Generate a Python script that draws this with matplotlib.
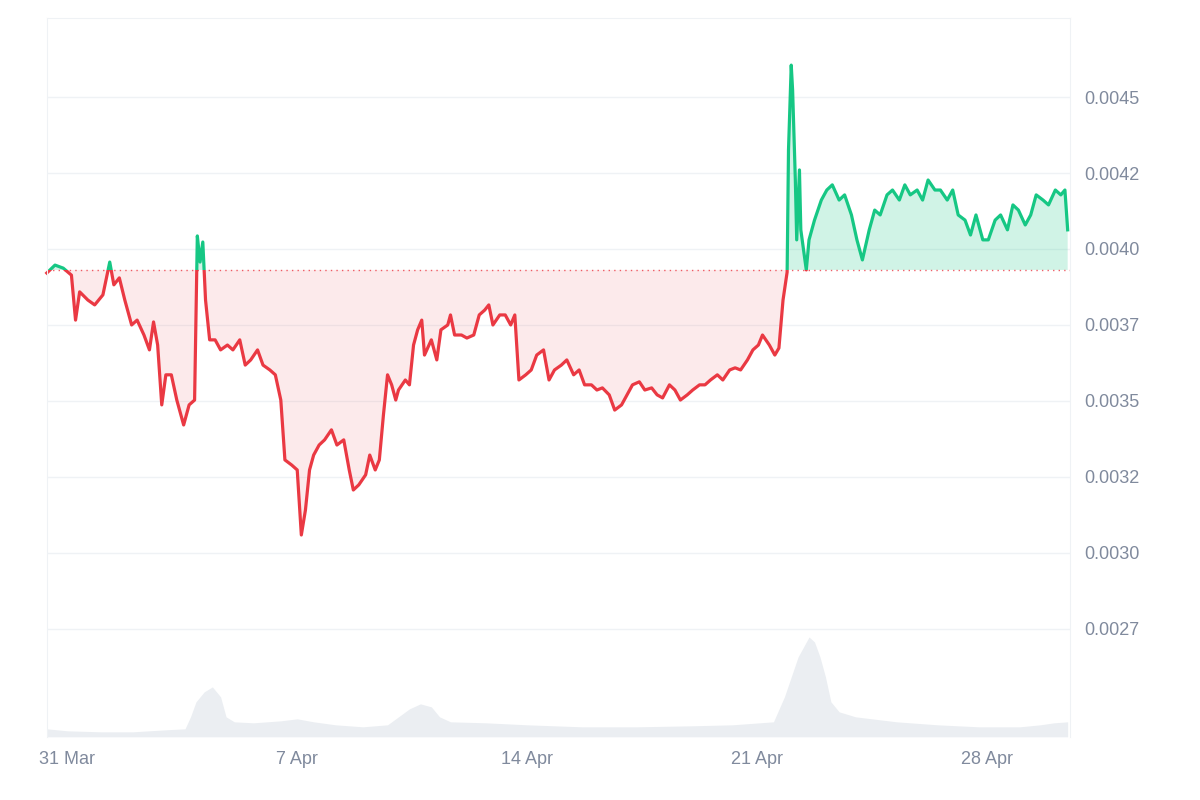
import matplotlib
matplotlib.use("Agg")
import matplotlib.pyplot as plt
from matplotlib.patches import Rectangle
import numpy as np

plt.rcParams['font.family'] = ['Liberation Sans', 'DejaVu Sans']

# hours since 30 Mar 00:00
hours = [9,15,21,27,30,33,39,44,50,55,58,62,66,71,75,80,84,87,90,93,96,100,104,109,113,117,119,121,123,125,128,132,136,141,145,150,154,158,163,167,172,176,180,183,188,192,195,198,201,204,208,212,217,221,226,230,233,237,242,245,249,252,255,258,261,264,266,271,274,277,280,283,285,290,294,297,302,304,307,312,316,321,325,329,332,335,340,344,348,351,354,359,363,367,372,376,380,385,389,394,398,402,407,411,415,420,424,429,433,437,442,446,451,455,459,464,468,472,477,481,486,490,494,499,503,508,512,516,521,525,529,532,537,541,544,547,550,551,553,554,556,557,559,560,562,564,566,570,575,579,583,588,592,597,601,605,610,614,618,623,627,632,636,640,645,649,653,658,662,667,671,675,680,684,688,693,697,702,706,711,715,719,724,728,732,737,741,746,750,753,755]
price_e6 = [3921,3947,3937,3914,3766,3859,3832,3816,3849,3957,3882,3905,3832,3750,3766,3717,3668,3760,3684,3487,3586,3586,3503,3421,3487,3503,4043,3957,4023,3832,3701,3701,3668,3684,3668,3701,3618,3635,3668,3618,3602,3586,3503,3306,3289,3273,3059,3141,3273,3322,3355,3372,3405,3355,3372,3273,3207,3224,3257,3322,3273,3306,3454,3586,3553,3503,3536,3569,3553,3684,3734,3766,3651,3701,3635,3734,3750,3783,3717,3717,3707,3717,3783,3799,3816,3750,3783,3783,3750,3783,3569,3586,3602,3651,3668,3569,3602,3618,3635,3586,3602,3553,3553,3536,3543,3520,3470,3487,3520,3553,3563,3536,3543,3520,3510,3553,3536,3503,3520,3536,3553,3553,3569,3586,3569,3602,3609,3602,3635,3668,3684,3717,3684,3651,3674,3832,3924,4326,4605,4523,4227,4030,4260,4063,3997,3931,4030,4095,4161,4194,4211,4161,4178,4112,4030,3964,4063,4128,4112,4178,4194,4161,4211,4178,4194,4161,4227,4194,4194,4161,4194,4112,4095,4046,4112,4030,4030,4095,4112,4063,4145,4128,4079,4112,4178,4161,4145,4194,4178,4194,4063]
vol_hours = [9,24,48,72,96,110,114,118,124,130,136,140,146,160,180,192,204,220,240,258,266,274,282,290,296,304,330,360,400,440,480,510,530,540,548,553,558,562,566,570,574,578,582,588,600,630,660,690,720,735,745,755]
volume = [8,6,5,5,7,8,20,35,45,50,40,20,15,14,16,18,15,12,10,12,20,28,33,30,20,15,14,12,10,10,11,12,14,15,40,60,80,90,100,95,80,60,35,25,20,15,12,10,10,12,14,15]
tick_hours = [24,192,360,528,696]
tick_labels = ["31 Mar","7 Apr","14 Apr","21 Apr","28 Apr"]
yticks = [0.0027,0.0030,0.0032,0.0035,0.0037,0.0040,0.0042,0.0045]
ytick_vals = [0.00275,0.0030,0.00325,0.0035,0.00375,0.0040,0.00425,0.0045]
baseline = 0.003931

n = min(len(hours), len(price_e6))
x = np.array(hours[:n], float)
p = np.array(price_e6[:n]) * 1e-6

RED = "#ea3943"; GREEN = "#16c784"; GRAY = "#808a9d"
fig = plt.figure(figsize=(12, 8), dpi=100)
ax = fig.add_axes([0.039, 0.079, 0.853, 0.8985])
ax.set_xlim(9, 757)
ax.set_ylim(0.002395, 0.00476)

axv = ax.twinx()
axv.set_ylim(0, 720)
axv.fill_between(vol_hours, volume, color="#e6eaef", lw=0, alpha=0.8)
axv.set_yticks([]); axv.axis("off")
ax.set_zorder(axv.get_zorder() + 1); ax.patch.set_visible(False)

for yv in ytick_vals:
    ax.axhline(yv, color="#eff2f5", lw=1, zorder=0)

ax.fill_between(x, p, baseline, where=p <= baseline, interpolate=True, color=RED, alpha=0.1, lw=0)
ax.fill_between(x, p, baseline, where=p >= baseline, interpolate=True, color=GREEN, alpha=0.2, lw=0)
ax.axhline(baseline, color=RED, lw=1, ls=(0, (1, 3)), alpha=0.8)

lr, = ax.plot(x, p, color=RED, lw=2.3, solid_joinstyle="round")
lg, = ax.plot(x, p, color=GREEN, lw=2.3, solid_joinstyle="round")
rect_g = Rectangle((0, baseline), 1000, 1, transform=ax.transData)
rect_r = Rectangle((0, 0), 1000, baseline, transform=ax.transData)
lg.set_clip_path(rect_g); lr.set_clip_path(rect_r)

ax.yaxis.tick_right()
ax.set_yticks(ytick_vals)
ax.set_yticklabels([f"{v:.4f}" for v in yticks])
ax.set_xticks(tick_hours)
ax.set_xticklabels(tick_labels)
ax.tick_params(length=0, colors=GRAY, labelsize=13, pad=10)
for s in ax.spines.values():
    s.set_color("#eff2f5")
ax.spines["bottom"].set_visible(False)
fig.savefig("out.png", dpi=100, facecolor="white")
